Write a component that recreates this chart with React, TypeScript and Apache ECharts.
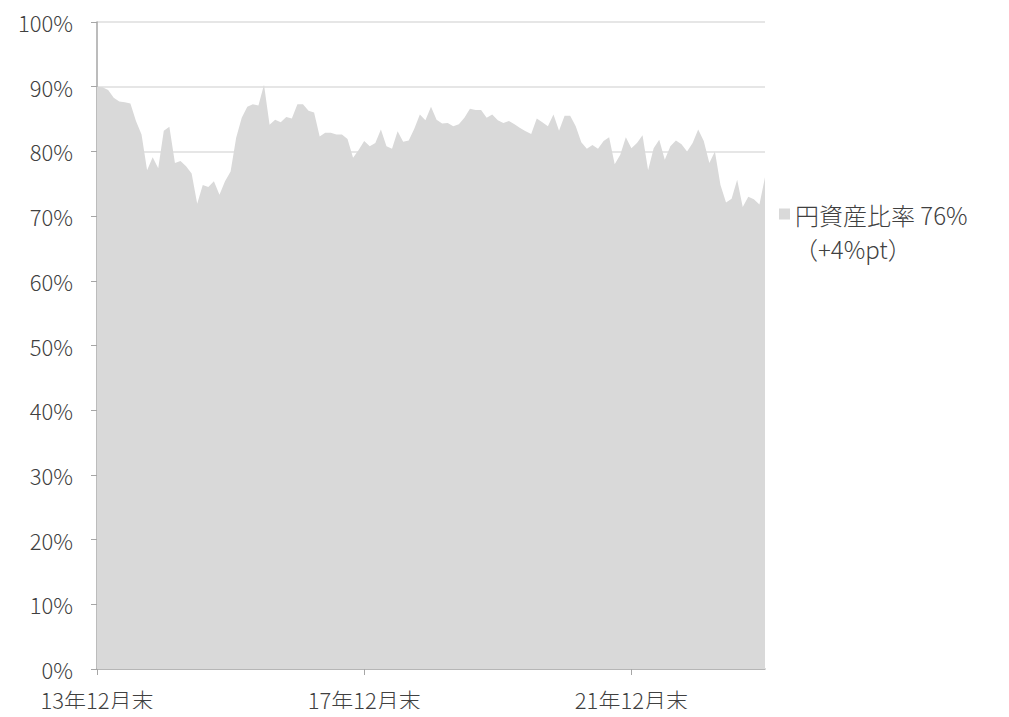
import React, { useEffect, useRef } from "react";
import * as echarts from "echarts";

// Monthly categories: Dec 2013 .. Dec 2023
const categories: string[] = [];
for (let k = 0; k <= 120; k++) {
  const y = 2013 + Math.floor((11 + k) / 12);
  const m = ((11 + k) % 12) + 1;
  categories.push(`${String(y).slice(2)}年${m}月末`);
}

// 円資産比率 (%)
const yenAssetRatio: number[] = [
  90.0, 89.9, 89.5, 88.3, 87.7, 87.6, 87.4, 84.7, 82.6, 77.1, 79.1, 77.4,
  83.2, 83.8, 78.2, 78.5, 77.7, 76.6, 71.9, 74.8, 74.5, 75.4, 73.3, 75.4,
  76.9, 82.1, 85.2, 86.9, 87.3, 87.1, 90.3, 84.1, 84.9, 84.5, 85.3, 85.1,
  87.3, 87.3, 86.3, 86.0, 82.3, 82.9, 82.9, 82.6, 82.6, 81.9, 79.0, 80.2,
  81.6, 80.8, 81.3, 83.4, 80.8, 80.4, 83.1, 81.5, 81.7, 83.5, 85.7, 84.8,
  86.9, 84.9, 84.3, 84.4, 83.9, 84.2, 85.2, 86.6, 86.4, 86.4, 85.2, 85.7,
  84.8, 84.4, 84.7, 84.2, 83.6, 83.1, 82.7, 85.1, 84.5, 83.9, 85.7, 83.2,
  85.5, 85.5, 83.9, 81.4, 80.4, 81.0, 80.4, 81.6, 82.2, 78.0, 79.5, 82.2,
  80.5, 81.3, 82.5, 77.1, 80.5, 81.8, 78.7, 80.8, 81.7, 81.1, 80.0, 81.3,
  83.4, 81.6, 78.2, 80.0, 74.8, 72.1, 72.7, 75.6, 71.4, 73.0, 72.6, 71.8,
  76.0,
];

const seriesName = "円資産比率";
const legendLine1 = "円資産比率 76%";
const legendLine2 = "（+4%pt）";

const FONT = '"Noto Sans CJK JP", "Noto Sans", sans-serif';
const TEXT = "#404040";
const FS = 22;
const FW = 300;

export default function App() {
  const ref = useRef<HTMLDivElement>(null);
  useEffect(() => {
    if (!ref.current) return;
    const chart = echarts.init(ref.current, undefined, { renderer: "svg" });
    chart.setOption({
      animation: false,
      textStyle: { fontFamily: FONT },
      grid: { left: 97, right: 244, top: 22, bottom: 48 },
      legend: {
        data: [seriesName],
        left: 779,
        top: 202,
        padding: 0,
        icon: "rect",
        itemWidth: 11,
        itemHeight: 11,
        formatter: () => legendLine1,
        textStyle: { fontSize: 24, fontWeight: FW, color: TEXT, fontFamily: FONT },
      },
      graphic: [
        {
          type: "text",
          left: 794,
          top: 236,
          style: { text: legendLine2, fontSize: 24, fontWeight: FW, fontFamily: FONT, fill: TEXT },
        },
      ],
      xAxis: {
        type: "category",
        data: categories,
        boundaryGap: false,
        axisLine: { show: true, lineStyle: { color: "#a6a6a6", width: 1.5 } },
        axisTick: {
          show: true,
          interval: (i: number) => i % 48 === 0,
          length: 6,
          lineStyle: { color: "#a6a6a6" },
        },
        axisLabel: {
          interval: (i: number) => i % 48 === 0,
          margin: 19,
          fontSize: 22,
          fontWeight: FW,
          color: TEXT,
          fontFamily: FONT,
        },
        splitLine: { show: false },
      },
      yAxis: {
        type: "value",
        min: 0,
        max: 100,
        interval: 10,
        axisLine: { show: true, lineStyle: { color: "#a6a6a6", width: 1.5 } },
        axisTick: { show: true, length: 6, lineStyle: { color: "#a6a6a6" } },
        axisLabel: {
          formatter: (v: number) => `${v}%`,
          margin: 24,
          fontSize: FS,
          fontWeight: FW,
          color: TEXT,
          fontFamily: FONT,
        },
        splitLine: { show: true, lineStyle: { color: "#dedede", width: 1.5 } },
      },
      series: [
        {
          name: seriesName,
          type: "line",
          data: yenAssetRatio,
          symbol: "none",
          lineStyle: { width: 0, color: "#d9d9d9" },
          itemStyle: { color: "#d9d9d9" },
          areaStyle: { color: "#d9d9d9", opacity: 1 },
          z: 3,
        },
      ],
    });
    return () => chart.dispose();
  }, []);
  return <div ref={ref} style={{ width: 1009, height: 717, margin: -8 }} />;
}
